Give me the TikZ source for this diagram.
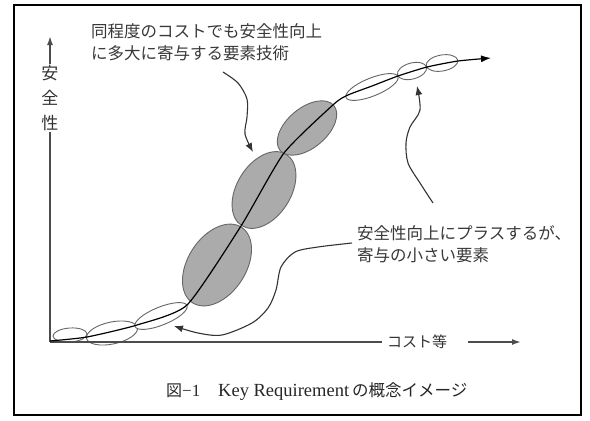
\documentclass[tikz,border=0pt]{standalone}
\usepackage{fontspec}
\setmainfont{Liberation Serif}
\newfontfamily\jp{Noto Sans CJK JP}
\newfontfamily\capjp{Noto Sans CJK JP}
\newfontfamily\capfont{Liberation Serif}
\usetikzlibrary{arrows.meta,shapes.geometric}
\begin{document}
\begin{tikzpicture}[x=1pt,y=-1pt,
  elw/.style={ellipse, draw=black!60, line width=0.9pt, inner sep=0pt, outer sep=0pt, fill=white},
  elg/.style={elw, fill=black!33},
  lbl/.style={font=\jp\fontsize{16.5}{22}\selectfont, text=black!78, inner sep=0pt, align=left},
  axisline/.style={draw=black!70, line width=1.6pt},
  axarrow/.style={-{Latex[length=9pt,width=6pt]}},
  ptr/.style={draw=black!80, line width=1.1pt, -{Latex[length=9pt,width=7pt]}},
]
\useasboundingbox (0,0) rectangle (590,421);
\draw[line width=2pt] (14,5) rectangle (581,415);

% ellipses
\node[elw, minimum width=34pt, minimum height=14pt, rotate=4] (e1) at (70,335) {};
\node[elw, minimum width=52pt, minimum height=22pt, rotate=12] (e2) at (112,333) {};
\node[elw, minimum width=56pt, minimum height=18pt, rotate=22] (e3) at (161,316) {};
\node[elg, minimum width=90pt, minimum height=58pt, rotate=57] (e4) at (217,265) {};
\node[elg, minimum width=84pt, minimum height=54pt, rotate=58] (e5) at (264,190) {};
\node[elg, minimum width=70pt, minimum height=40pt, rotate=40] (e6) at (307,128) {};
\node[elw, minimum width=56pt, minimum height=18pt, rotate=22] (e7) at (372,87) {};
\node[elw, minimum width=30pt, minimum height=16pt, rotate=15] (e8) at (412,71) {};
\node[elw, minimum width=32pt, minimum height=16pt, rotate=10] (e9) at (442,63) {};

% axes
\coordinate (O) at (50,342);
\coordinate (ytip) at (50,36);
\node[font=\jp\fontsize{17}{25}\selectfont, align=center, inner sep=1pt, text=black!80] (ylab) at (50,98) {安\\全\\性};
\draw[axisline] (O) -- (ylab.south);
\draw[axisline, axarrow] (ylab.north) -- (ytip);
\node[font=\jp\fontsize{15}{15}\selectfont, text=black!80, inner xsep=5pt] (xlab) at (417,342) {コスト等};
\draw[axisline] (O) -- (xlab.west);
\coordinate (xs) at (468,342);
\coordinate (xtip) at (521,342);
\draw[axisline, axarrow] (xs) -- (xtip);

% main curve
\coordinate (cs) at (50,341);
\coordinate (ctip) at (491,58);
\draw[line width=1.2pt, -{Latex[length=10pt,width=7pt]}] plot[smooth, tension=0.35] coordinates {(cs) (87,337) (137,325) (187,305) (241,226) (284,153) (334,104) (348,95) (372,86) (398,76) (427,67) (458,61) (ctip)};

% labels
\node[lbl, anchor=west] (t1) at (91,42) {同程度のコストでも安全性向上\\に多大に寄与する要素技術};
\node[lbl, anchor=west] (t2) at (357,244) {安全性向上にプラスするが、\\寄与の小さい要素};

% pointers
\coordinate (p1s) at (223,72);
\coordinate (p1t) at (253,152);
\draw[ptr] plot[smooth] coordinates {(p1s) (238,83) (247,99) (247,117) (245,134) (p1t)};
\coordinate (p2s) at (433,203);
\coordinate (p2t) at (417,86);
\draw[ptr] plot[smooth] coordinates {(p2s) (420,183) (408,163) (406,143) (410,127) (420,110) (p2t)};
\coordinate (p3s) at (352,243);
\coordinate (p3t) at (174,326);
\draw[ptr] plot[smooth] coordinates {(p3s) (318,247) (295,252) (281,267) (276,290) (268,308) (252,323) (222,335) (198,333) (p3t)};

% caption
\node[anchor=west, inner sep=0pt, text=black!85] (cap) at (166,392) {\makebox[52pt][l]{{\capjp\fontsize{16}{16}\selectfont 図}{\capfont\fontsize{17}{17}\selectfont −1}}{\capfont\fontsize{18.5}{18.5}\selectfont Key Requirement}\kern3pt{\capjp\fontsize{16.5}{16.5}\selectfont の概念イメージ}};
\end{tikzpicture}
\end{document}
